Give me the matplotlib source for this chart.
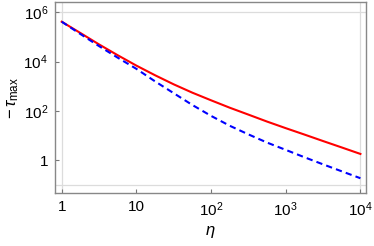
import matplotlib
matplotlib.use("Agg")
import matplotlib.pyplot as plt

eta = [1, 1.78, 3.16, 5.62, 10, 17.8, 31.6, 56.2, 100, 178, 316, 562,
       1000, 1780, 3160, 5620, 10000]
tau_red = [4.17e5, 1.45e5, 5.0e4, 1.82e4, 6.9e3, 2.8e3, 1.2e3, 550, 270,
           135, 71, 37, 20, 11, 6.0, 3.3, 1.8]
tau_blue = [4.17e5, 1.32e5, 4.27e4, 1.45e4, 5.1e3, 1.58e3, 525, 174, 63,
            25, 11.2, 5.2, 2.63, 1.32, 0.68, 0.355, 0.186]

xticks = [1, 10, 100, 1000, 10000]
xticklabels = ["1", "10", "$10^{2}$", "$10^{3}$", "$10^{4}$"]
yticks = [1, 1e2, 1e4, 1e6]
yticklabels = ["1", "$10^{2}$", "$10^{4}$", "$10^{6}$"]

plt.rcParams['font.family'] = ['Liberation Sans', 'DejaVu Sans']
plt.rcParams['mathtext.fontset'] = 'custom'
plt.rcParams['mathtext.rm'] = 'Liberation Sans'
plt.rcParams['mathtext.it'] = 'Liberation Sans:italic'

fig = plt.figure(figsize=(3.74, 2.46), dpi=100)
ax = fig.add_axes([55/374, 1-193/246, (366-55)/374, (193-2)/246])
ax.set_xscale('log')
ax.set_yscale('log')
ax.set_xlim(10**-0.09, 10**4.075)
ax.set_ylim(10**-1.33, 10**6.42)

gc = '#dcdcdc'
ax.axvline(1, color=gc, lw=0.9, zorder=0)
ax.axvline(1e4, color=gc, lw=0.9, zorder=0)
ax.axhline(1e6, color=gc, lw=0.9, zorder=0)
ax.axhline(1e-1, color=gc, lw=0.9, zorder=0)

ax.plot(eta, tau_red, color='#ff0000', lw=1.5)
ax.plot(eta, tau_blue, color='#0000ff', lw=1.5, dashes=(3, 2))

ax.set_xticks(xticks)
ax.set_xticklabels(xticklabels)
ax.set_yticks(yticks)
ax.set_yticklabels(yticklabels)
ax.minorticks_off()
ax.tick_params(direction='in', length=3, width=0.8, color='#777777',
               labelsize=11, pad=5, top=False, right=False)
for s in ax.spines.values():
    s.set_color('#888888')
    s.set_linewidth(1.0)

ax.set_xlabel(r'$\eta$', fontsize=12, labelpad=4)
ax.set_ylabel(r'$-\,\tau_{\mathrm{max}}$', fontsize=12, labelpad=2)

fig.savefig('out.png', dpi=100)
